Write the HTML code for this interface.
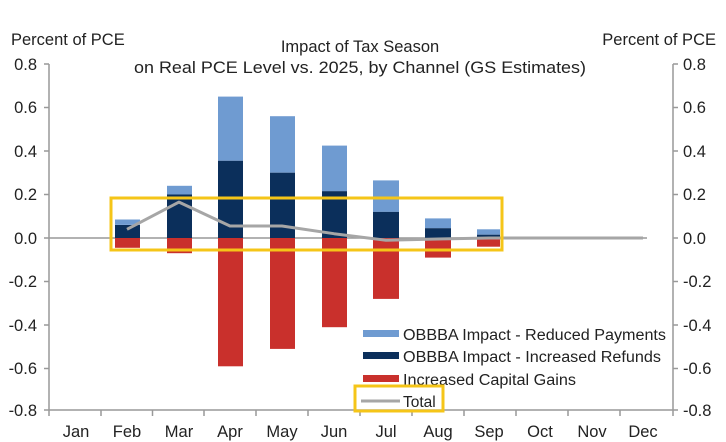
<!DOCTYPE html>
<html><head><style>body{margin:0;background:#fff}svg{display:block}text{font-family:"Liberation Sans",sans-serif;fill:#222}</style></head><body>
<svg width="726" height="442" viewBox="0 0 726 442" xmlns="http://www.w3.org/2000/svg">
<text x="11" y="45" font-size="16.5">Percent of PCE</text>
<text x="716" y="45" font-size="16.5" text-anchor="end">Percent of PCE</text>
<text x="360" y="52" font-size="16.5" text-anchor="middle">Impact of Tax Season</text>
<text x="360" y="73" font-size="16.5" text-anchor="middle" textLength="452" lengthAdjust="spacingAndGlyphs">on Real PCE Level vs. 2025, by Channel (GS Estimates)</text>
<g stroke="#999" stroke-width="1.5" fill="none">
<line x1="49" y1="64" x2="49" y2="410"/><line x1="673" y1="64" x2="673" y2="410"/>
<line x1="49" y1="410" x2="673" y2="410"/>
<path d="M44 64H49M44 107.5H49M44 151H49M44 194.5H49M44 238H49M44 281.5H49M44 325H49M44 368.5H49M44 410H49"/>
<path d="M673 64H678M673 107.5H678M673 151H678M673 194.5H678M673 238H678M673 281.5H678M673 325H678M673 368.5H678M673 410H678"/>
<path d="M49 410V416M101 410V416M152.5 410V416M204 410V416M256 410V416M308 410V416M360 410V416M412 410V416M464 410V416M516 410V416M568 410V416M620 410V416M673 410V416"/>
</g>
<g font-size="16.5" text-anchor="end">
<text x="37" y="70">0.8</text><text x="37" y="113">0.6</text><text x="37" y="157">0.4</text><text x="37" y="200">0.2</text><text x="37" y="244">0.0</text><text x="37" y="287">-0.2</text><text x="37" y="331">-0.4</text><text x="37" y="374">-0.6</text><text x="37" y="416">-0.8</text>
</g>
<g font-size="16.5">
<text x="683" y="70">0.8</text><text x="683" y="113">0.6</text><text x="683" y="157">0.4</text><text x="683" y="200">0.2</text><text x="683" y="244">0.0</text><text x="683" y="287">-0.2</text><text x="683" y="331">-0.4</text><text x="683" y="374">-0.6</text><text x="683" y="416">-0.8</text>
</g>
<g font-size="16.5" text-anchor="middle">
<text x="76" y="437">Jan</text><text x="127" y="437">Feb</text><text x="179" y="437">Mar</text><text x="230" y="437">Apr</text><text x="282" y="437">May</text><text x="334" y="437">Jun</text><text x="386" y="437">Jul</text><text x="438" y="437">Aug</text><text x="489" y="437">Sep</text><text x="540" y="437">Oct</text><text x="592" y="437">Nov</text><text x="643" y="437">Dec</text>
</g>
<line x1="49" y1="238" x2="647" y2="238" stroke="#999" stroke-width="1.5"/>
<g>
<rect x="115" y="219.5" width="25" height="5.4" fill="#6f9bd1"/><rect x="115" y="225" width="25" height="13" fill="#0b2f5b"/><rect x="115" y="238" width="25" height="9.8" fill="#c9302c"/>
<rect x="167" y="185.8" width="25" height="8.7" fill="#6f9bd1"/><rect x="167" y="194.5" width="25" height="43.5" fill="#0b2f5b"/><rect x="167" y="238" width="25" height="15.2" fill="#c9302c"/>
<rect x="218" y="96.6" width="25" height="64.2" fill="#6f9bd1"/><rect x="218" y="160.8" width="25" height="77.2" fill="#0b2f5b"/><rect x="218" y="238" width="25" height="128.3" fill="#c9302c"/>
<rect x="270" y="116.2" width="25" height="56.5" fill="#6f9bd1"/><rect x="270" y="172.7" width="25" height="65.3" fill="#0b2f5b"/><rect x="270" y="238" width="25" height="110.9" fill="#c9302c"/>
<rect x="322" y="145.6" width="25" height="45.7" fill="#6f9bd1"/><rect x="322" y="191.2" width="25" height="46.8" fill="#0b2f5b"/><rect x="322" y="238" width="25" height="89.2" fill="#c9302c"/>
<rect x="373" y="180.4" width="26" height="31.5" fill="#6f9bd1"/><rect x="373" y="211.9" width="26" height="26.1" fill="#0b2f5b"/><rect x="373" y="238" width="26" height="60.9" fill="#c9302c"/>
<rect x="425" y="218.4" width="26" height="9.8" fill="#6f9bd1"/><rect x="425" y="228.2" width="26" height="9.8" fill="#0b2f5b"/><rect x="425" y="238" width="26" height="19.6" fill="#c9302c"/>
<rect x="477" y="229.3" width="23" height="5.4" fill="#6f9bd1"/><rect x="477" y="234.7" width="23" height="3.3" fill="#0b2f5b"/><rect x="477" y="238" width="23" height="8.7" fill="#c9302c"/>
</g>
<polyline points="127,229.3 179,202.1 230,226 282,226 334,233.7 386,240.2 438,239 489,238 540,238 592,238 643,238" fill="none" stroke="#a6a6a6" stroke-width="3" stroke-linejoin="round"/>
<rect x="111" y="198" width="391" height="52" fill="none" stroke="#f5c518" stroke-width="3"/>
<g font-size="15.5">
<rect x="363" y="330" width="36" height="7" fill="#6f9bd1"/><text x="403" y="340" textLength="263" lengthAdjust="spacingAndGlyphs">OBBBA Impact - Reduced Payments</text>
<rect x="363" y="352" width="36" height="7" fill="#0b2f5b"/><text x="403" y="362" textLength="258" lengthAdjust="spacingAndGlyphs">OBBBA Impact - Increased Refunds</text>
<rect x="363" y="375" width="36" height="7" fill="#c9302c"/><text x="403" y="385" textLength="173" lengthAdjust="spacingAndGlyphs">Increased Capital Gains</text>
<line x1="361" y1="401" x2="400" y2="401" stroke="#a6a6a6" stroke-width="3"/><text x="403" y="407">Total</text>
</g>
<rect x="355" y="386" width="88" height="25" fill="none" stroke="#f5c518" stroke-width="3"/>
</svg>
</body></html>
